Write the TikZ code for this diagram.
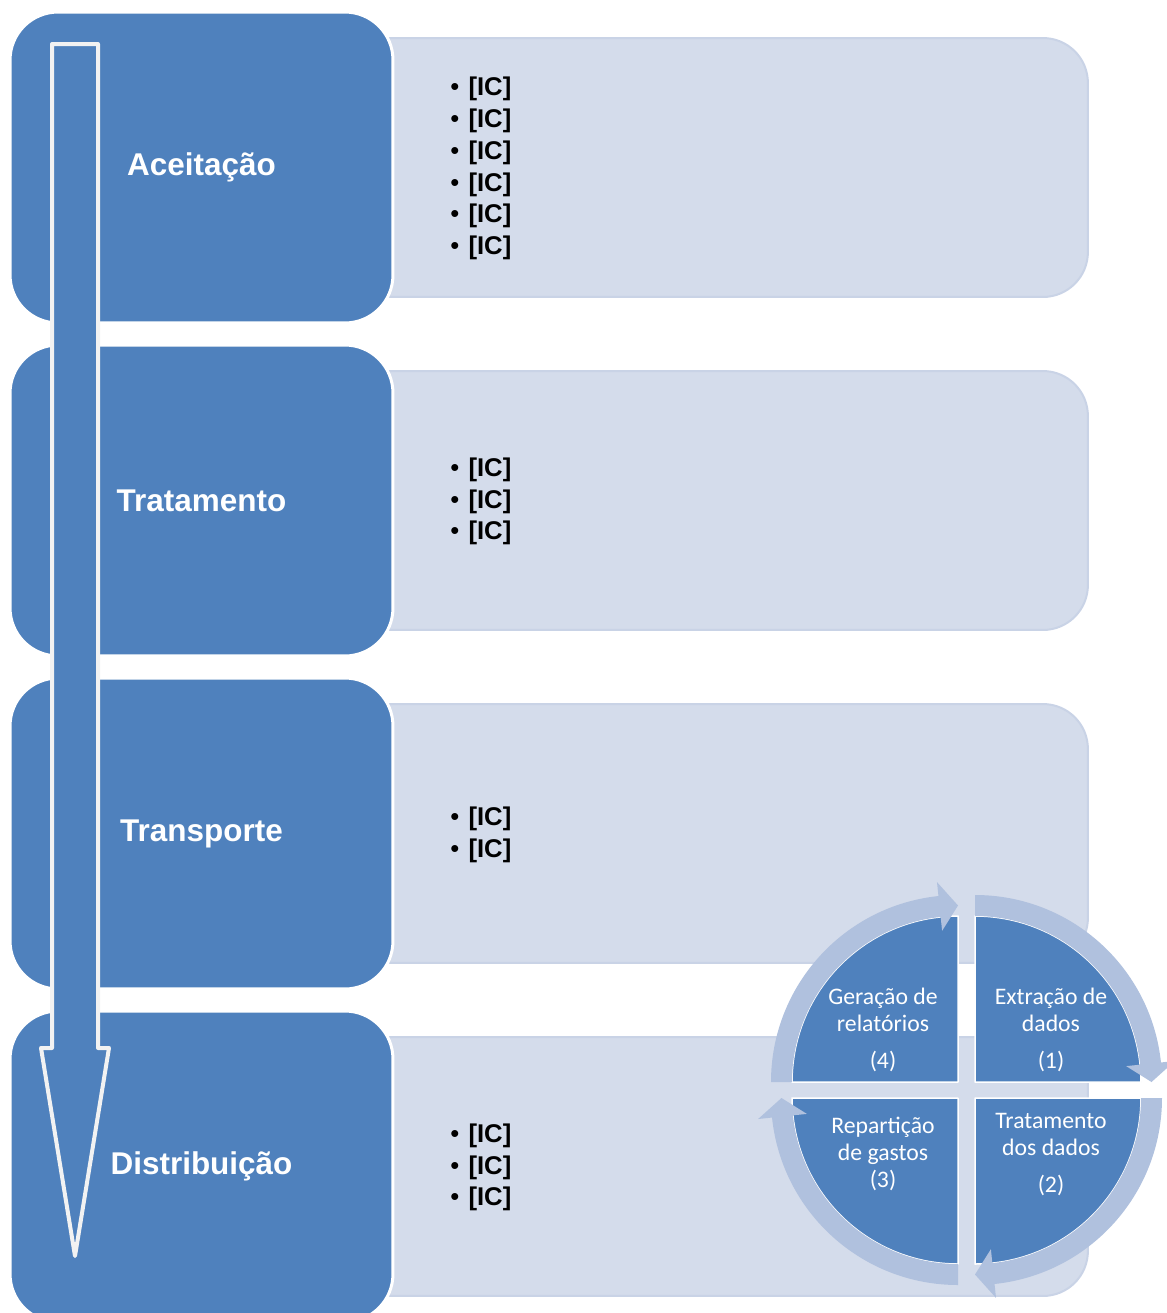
\documentclass[tikz,border=0pt]{standalone}
\usepackage{fontspec}
\setmainfont{Liberation Sans}
\newfontfamily\cyclefont{Carlito}
\definecolor{stageblue}{HTML}{4F81BD}
\definecolor{detailfill}{HTML}{D4DCEB}
\definecolor{detailline}{HTML}{C9D3E6}
\definecolor{ringblue}{HTML}{B0C1DE}
\newcommand\ic{\textbullet\hspace{0.36em}\textbf{[IC]}}
\tikzset{
  stage/.style={fill=stageblue, draw=white, line width=0.06cm, rounded corners=0.96cm,
    minimum width=7.66cm, minimum height=6.22cm, text=white,
    font=\fontsize{17.9}{21}\selectfont\bfseries},
  detail/.style={fill=detailfill, draw=detailline, line width=0.04cm, rounded corners=0.9cm,
    minimum width=15.76cm, minimum height=5.18cm},
  items/.style={anchor=west, align=left, inner sep=0pt, font=\fontsize{14.6}{18.1}\selectfont},
  sector/.style={fill=stageblue, draw=white, line width=0.03cm},
  ring/.style={fill=ringblue},
  cyctext/.style={align=center, text=white, inner sep=0pt,
    font=\cyclefont\fontsize{13.5}{15.3}\selectfont}
}
\begin{document}
\begin{tikzpicture}[x=0.02cm, y=-0.02cm, line join=round]
\useasboundingbox (0,0) rectangle (1167,1313);
\clip (0,0) rectangle (1167,1313);
% etapas
\foreach \lbl/\txt [count=\i from 0] in {Aceitação/{\ic\\\ic\\\ic\\\ic\\\ic\\\ic},
    Tratamento/{\ic\\\ic\\\ic}, Transporte/{\ic\\\ic}, Distribuição/{\ic\\\ic\\\ic}}{
  \node[detail] (det\i) at (694,{167.5+333*\i}) {};
  \node[stage] (stage\i) at (201.5,{167.5+333*\i}) {\lbl};
  \node[items] (list\i) at (450,{168.5+333*\i}) {\txt};
}
% flecha
\draw[fill=stageblue, draw=white!95!black, line width=0.08cm]
  (52,44) -- (98,44) -- (98,1048) -- (109,1048) -- (75,1256) -- (41,1048) -- (52,1048) -- cycle;
% ciclo
\foreach \cx/\cy/\a/\b/\c in {975/1082/-90/-6/0, 975/1098/0/84/90, 958/1098/90/174/180, 958/1082/180/264/270}{
  \begin{scope}[shift={(\cx,\cy)}]
    \draw[sector] (0,0) -- (\a:166) arc[start angle=\a, end angle=\c, radius=166] -- cycle;
    \fill[ring] (\a:166) -- (\a:187) arc[start angle=\a, end angle=\b, radius=187]
      -- (\b:201) -- (\c:176.5) -- (\b:152) -- (\b:166) arc[start angle=\b, end angle=\a, radius=166] -- cycle;
  \end{scope}
}
\node[cyctext] (q1) at (1051,1030) {Extração de\\dados\\[0.2cm](1)};
\node[cyctext] (q2) at (1051,1154.5) {Tratamento\\dos dados\\[0.2cm](2)};
\node[cyctext] (q3) at (883,1154) {Repartição\\de gastos\\(3)};
\node[cyctext] (q4) at (883,1030) {Geração de\\relatórios\\[0.2cm](4)};
\end{tikzpicture}
\end{document}
